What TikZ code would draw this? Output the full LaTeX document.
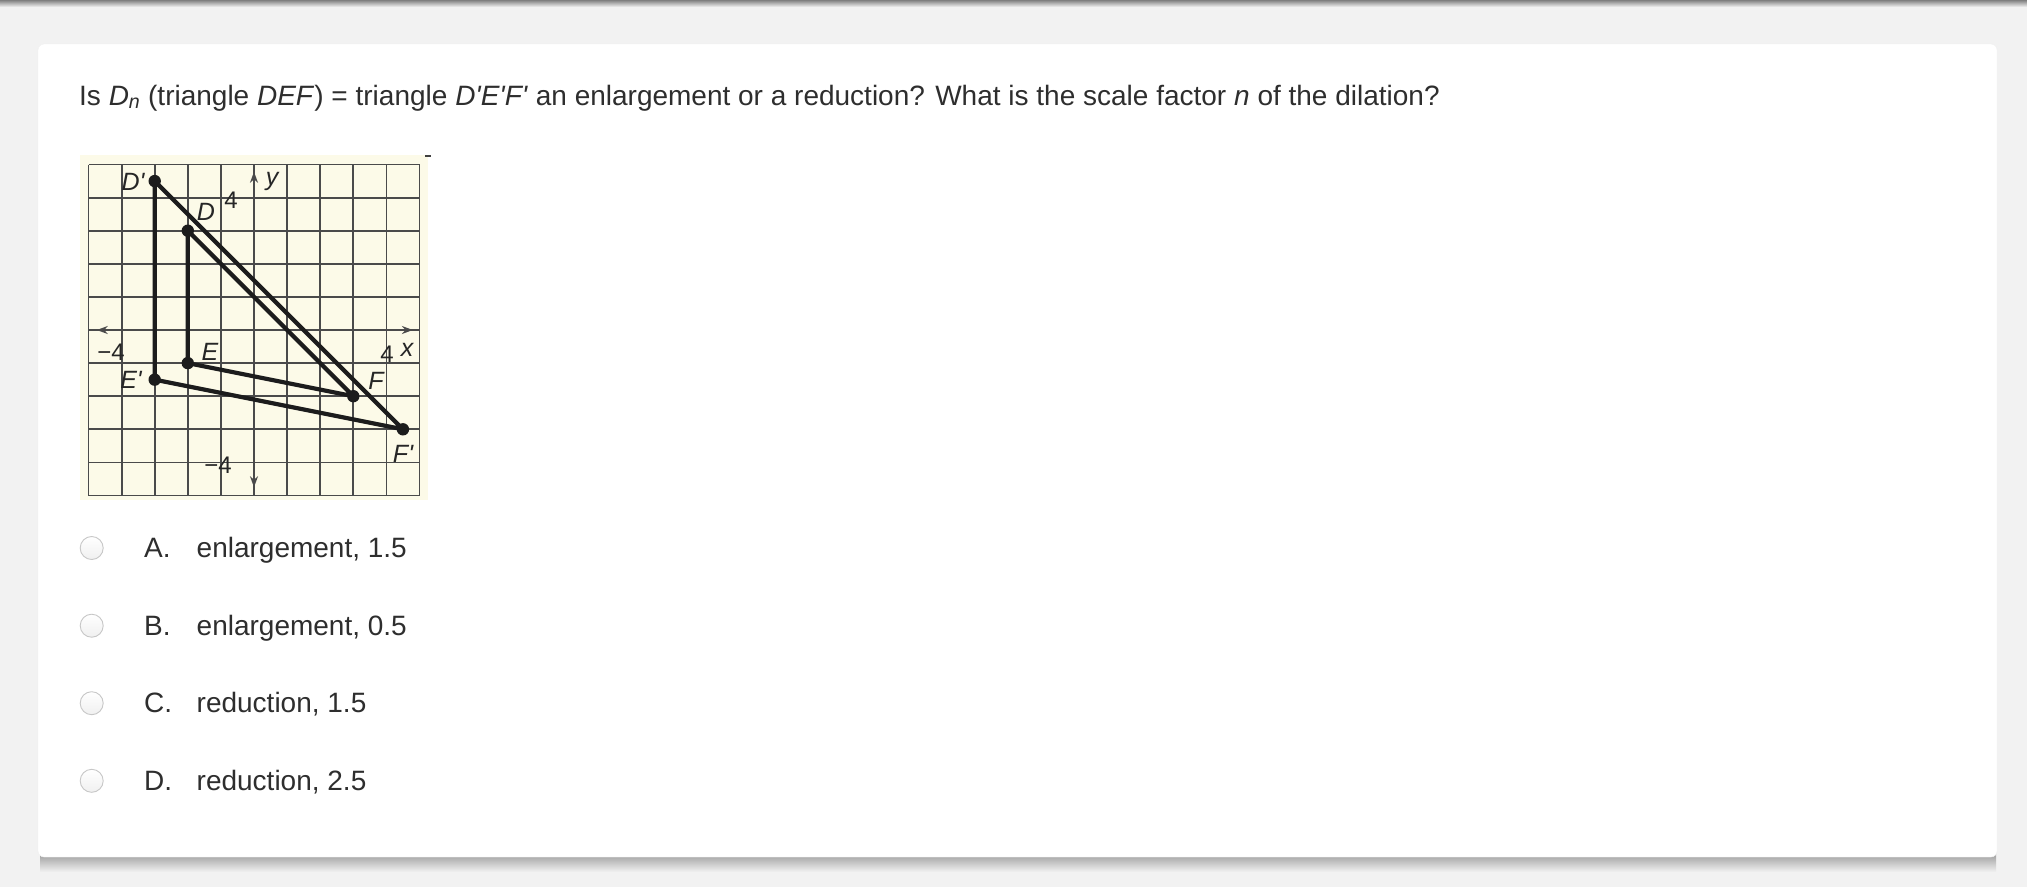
\documentclass[tikz,border=0pt]{standalone}
\usepackage{fontspec}
\newfontfamily\qf{Liberation Sans}
\usetikzlibrary{arrows.meta}
\definecolor{bg}{HTML}{F2F2F2}
\definecolor{txt}{HTML}{2E2E2E}
\definecolor{cream}{HTML}{FCFAE8}
\definecolor{gridc}{HTML}{4A4A4A}
\definecolor{tri}{HTML}{1C1C1C}
\tikzset{
  qtext/.style={anchor=base west, inner sep=0pt, text=txt, font=\qf\fontsize{28}{32}\selectfont},
  radio/.style={circle, minimum size=23pt, inner sep=0pt, draw=black!22, line width=0.9pt, top color=white, bottom color=black!6},
  glab/.style={inner sep=0pt, text=black!85, font=\qf\itshape\fontsize{25}{28}\selectfont},
  gnum/.style={inner sep=0pt, text=black!85, font=\qf\fontsize{24}{28}\selectfont},
  triline/.style={draw=tri, line width=4.2pt, line join=round, line cap=round},
  gridline/.style={draw=gridc, line width=1.8pt},
  axisarrow/.style={draw=gridc, line width=1.8pt, {Stealth[length=11pt,width=8pt]}-{Stealth[length=11pt,width=8pt]}}
}
\begin{document}
\begin{tikzpicture}[x=1pt,y=-1pt]
\useasboundingbox (0,0) rectangle (2027,887);
% page background
\fill[bg] (0,0) rectangle (2027,887);
\shade[top color=black!50, bottom color=bg] (0,0) rectangle (2027,7);
% card shadow and card
\shade[top color=black!45, bottom color=bg] (40,850) rectangle (1996,872);
\fill[white, rounded corners=6pt, draw=black!6] (38,44) rectangle (1997,857);
% question
\node[qtext] (q) at (79,105) {Is \textit{D}\textsubscript{\textit{n}} (triangle \textit{DEF}) = triangle \textit{D'E'F'} an enlargement or a reduction? What is the scale factor \textit{n} of the dilation?};
% graph
\fill[cream] (80,155) rectangle (428,500);
\draw[black!75, line width=1.5pt] (425,156) -- (431,156);
\begin{scope}[shift={(254,330)}, x=33.1pt, y=33.1pt]
  \draw[gridline] (-5,-5) grid[step=1] (5,5);
  \draw[axisarrow] (-4.75,0) -- (4.8,0);
  \draw[axisarrow] (0,-4.75) -- (0,4.78);
  \coordinate (D) at (-2,3);
  \coordinate (E) at (-2,-1);
  \coordinate (F) at (3,-2);
  \coordinate (D1) at (-3,4.5);
  \coordinate (E1) at (-3,-1.5);
  \coordinate (F1) at (4.5,-3);
  \draw[triline] (D1) -- (E1) -- (F1) -- cycle;
  \draw[triline] (D) -- (E) -- (F) -- cycle;
  \foreach \p in {D,E,F,D1,E1,F1} \fill[tri] (\p) circle (6.2pt);
\end{scope}
\node[glab] (lD1) at (133,182) {D'};
\node[gnum] (l4y) at (231,200) {4};
\node[glab] (ly) at (272,181) {y};
\node[glab] (lD) at (206,212) {D};
\node[gnum] (lm4x) at (111,352) {−4};
\node[glab] (lE) at (210,352) {E};
\node[gnum] (l4x) at (387,354) {4};
\node[glab] (lx) at (407,350) {x};
\node[glab] (lE1) at (131,380) {E'};
\node[glab] (lF) at (376,381) {F};
\node[glab] (lF1) at (403,454) {F'};
\node[gnum] (lm4y) at (218,465) {−4};
% options
\foreach \y/\l/\t/\n in {548/A./{enlargement, 1.5}/a, 625.7/B./{enlargement, 0.5}/b, 703.2/C./{reduction, 1.5}/c, 780.8/D./{reduction, 2.5}/d}{
  \node[radio] (r\n) at (91.7,\y) {};
  \node[qtext] (k\n) at (144,\y+9.5) {\l};
  \node[qtext] (t\n) at (196.5,\y+9.5) {\t};
}
\end{tikzpicture}
\end{document}
